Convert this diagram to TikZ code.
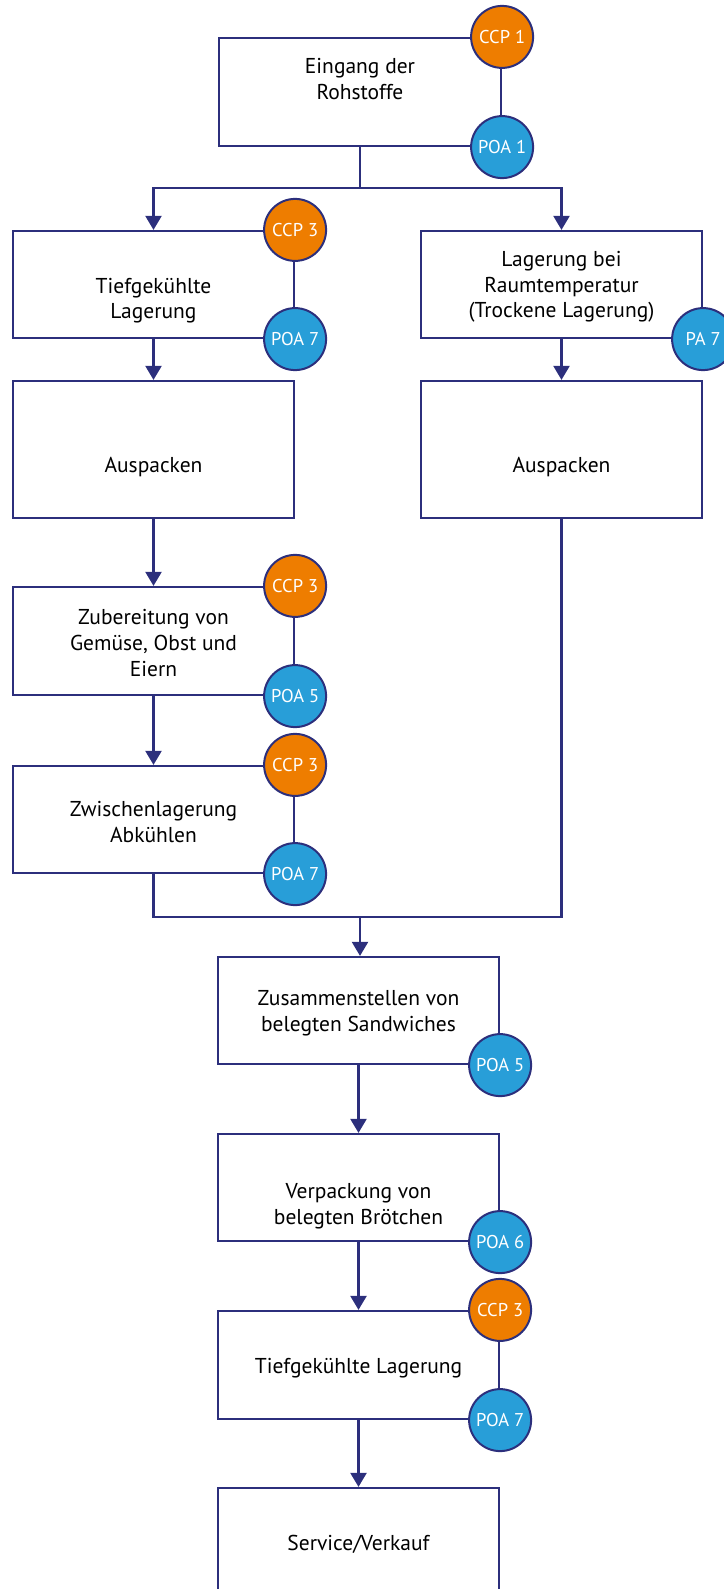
\documentclass[tikz,border=0pt]{standalone}
\usepackage{fontspec}
\setmainfont{PT Sans}
\usetikzlibrary{arrows.meta}
\definecolor{navy}{RGB}{44,47,124}
\definecolor{ccporange}{RGB}{238,125,0}
\definecolor{poablue}{RGB}{40,158,216}
\tikzset{
  box/.style={draw=navy, line width=2.2pt, fill=white, inner sep=0pt, minimum width=281pt, minimum height=107pt},
  txt/.style={align=center, text=black, inner sep=0pt, font=\fontsize{21.5}{25.6}\selectfont},
  ccp/.style={circle, draw=navy, line width=2pt, fill=ccporange, text=white, minimum size=62pt, inner sep=0pt, font=\fontsize{18.5}{20}\selectfont},
  poa/.style={ccp, fill=poablue},
  conn/.style={draw=navy, line width=2.2pt},
  arr/.style={conn, -{Triangle[width=16pt,length=14pt]}}
}
\begin{document}
\begin{tikzpicture}[x=1pt,y=-1pt]
\useasboundingbox (0,0) rectangle (723,1589);
% boxes
\node[box, minimum width=282pt, minimum height=108pt] (b1) at (360,92) {};
\node[box] (l1) at (153.5,284.5) {};
\node[box] (r1) at (561.5,284.5) {};
\node[box, minimum height=137pt] (l2) at (153.5,449.5) {};
\node[box, minimum height=137pt] (r2) at (561.5,449.5) {};
\node[box, minimum height=108pt] (l3) at (153.5,641) {};
\node[box] (l4) at (153.5,819.5) {};
\node[box, minimum width=281pt] (b5) at (358.5,1010.5) {};
\node[box, minimum width=281pt] (b6) at (358.5,1187.5) {};
\node[box, minimum height=108pt] (b7) at (358.5,1365) {};
\node[box, minimum height=110pt] (b8) at (358.5,1543) {};
% texts
\node[txt] (t1) at (360,79) {Eingang der\\Rohstoffe};
\node[txt] (tl1) at (153.5,300.5) {Tiefgekühlte\\Lagerung};
\node[txt] (tr1) at (561.5,287) {Lagerung bei\\Raumtemperatur\\(Trockene Lagerung)};
\node[txt] (tl2) at (153.5,467) {Auspacken};
\node[txt] (tr2) at (561.5,467) {Auspacken};
\node[txt] (tl3) at (153.5,643) {Zubereitung von\\Gemüse, Obst und\\Eiern};
\node[txt] (tl4) at (153.5,822) {Zwischenlagerung\\Abkühlen};
\node[txt] (t5) at (358.5,1013.5) {Zusammenstellen von\\belegten Sandwiches};
\node[txt] (t6) at (358.5,1206.5) {Verpackung von\\belegten Brötchen};
\node[txt] (t7) at (358.5,1368) {Tiefgekühlte Lagerung};
\node[txt] (t8) at (358.5,1544) {Service/Verkauf};
% connectors
\coordinate (split) at (360,188);
\coordinate (merge) at (360,917);
\draw[conn] (b1.south) -- (split);
\draw[arr] (split) -| (l1.north);
\draw[arr] (split) -| (r1.north);
\draw[arr] (l1.south) -- (l2.north);
\draw[arr] (r1.south) -- (r2.north);
\draw[arr] (l2.south) -- (l3.north);
\draw[arr] (l3.south) -- (l4.north);
\draw[conn] (l4.south) |- (merge);
\draw[conn] (r2.south) |- (merge);
\draw[arr] (merge) -- (merge |- b5.north);
\draw[arr] (b5.south) -- (b6.north);
\draw[arr] (b6.south) -- (b7.north);
\draw[arr] (b7.south) -- (b8.north);
% badges
\node[ccp] (c1) at (b1.north east) {CCP 1};
\node[poa] (p1) at (b1.south east) {POA 1};
\node[ccp] (cl1) at (l1.north east) {CCP 3};
\node[poa] (pl1) at (l1.south east) {POA 7};
\node[poa] (pr1) at (r1.south east) {PA 7};
\node[ccp] (cl3) at (l3.north east) {CCP 3};
\node[poa] (pl3) at (l3.south east) {POA 5};
\node[ccp] (cl4) at (l4.north east) {CCP 3};
\node[poa] (pl4) at (l4.south east) {POA 7};
\node[poa] (p5) at (b5.south east) {POA 5};
\node[poa] (p6) at (b6.south east) {POA 6};
\node[ccp] (c7) at (b7.north east) {CCP 3};
\node[poa] (p7) at (b7.south east) {POA 7};
\end{tikzpicture}
\end{document}
